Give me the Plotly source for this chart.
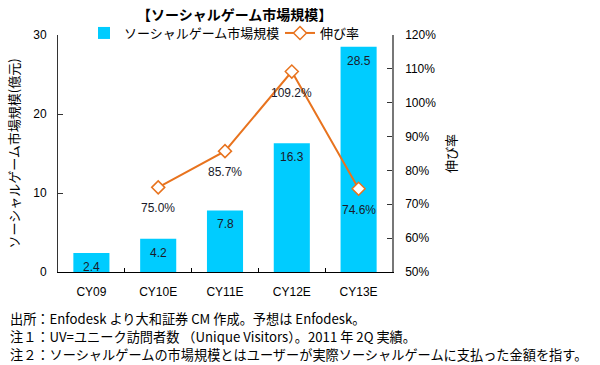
import plotly.graph_objects as go

categories = ["CY09", "CY10E", "CY11E", "CY12E", "CY13E"]
market_size = [2.4, 4.2, 7.8, 16.3, 28.5]
growth_cats = ["CY10E", "CY11E", "CY12E", "CY13E"]
growth_rate = [75.0, 85.7, 109.2, 74.6]
left_ticks = [0, 10, 20, 30]
right_ticks = [50, 60, 70, 80, 90, 100, 110, 120]
notes = [
    "出所：Enfodesk より大和証券 CM 作成。予想は Enfodesk。",
    "注１：UV=ユニーク訪問者数 （Unique Visitors）。2011 年 2Q 実績。",
    "注２：ソーシャルゲームの市場規模とはユーザーが実際ソーシャルゲームに支払った金額を指す。",
]

JP = "Noto Sans CJK JP"
LAT = "Liberation Sans, Arial, sans-serif"
BAR = "#00CCFF"
ORANGE = "#E8731E"

H, W = 365, 600
mt, mb, ml, mr = 35, 93, 58, 208
ph, pw = H - mt - mb, W - ml - mr


def px2paper(px, py):
    return (px - ml) / pw, (H - mb - py) / ph


fig = go.Figure()
fig.add_trace(go.Bar(
    x=categories, y=market_size, name="ソーシャルゲーム市場規模",
    marker=dict(color=BAR, line=dict(width=0)), width=0.54, yaxis="y", legend="legend",
))
fig.add_trace(go.Scatter(
    x=growth_cats, y=growth_rate, name="伸び率", yaxis="y2", legend="legend2",
    mode="lines+markers",
    line=dict(color=ORANGE, width=2),
    marker=dict(symbol="diamond", size=10, color="white", line=dict(color=ORANGE, width=1.5)),
))

annotations = []
for c, v in zip(categories, market_size):
    annotations.append(dict(x=c, y=v, xref="x", yref="y", text=f"{v:.1f}", showarrow=False,
                            yshift=-14, font=dict(family=LAT, size=12, color="#1a1a2a")))
for c, v in zip(growth_cats, growth_rate):
    annotations.append(dict(x=c, y=v, xref="x", yref="y2", text=f"{v:.1f}%", showarrow=False,
                            yshift=-21, font=dict(family=LAT, size=12, color="#1a1a2a")))
for i, t in enumerate(notes):
    nx, ny = px2paper(8, 318 + 18 * i)
    annotations.append(dict(x=nx, y=ny, xref="paper", yref="paper", text=t, showarrow=False,
                            xanchor="left", yanchor="middle", font=dict(family=JP, size=13.2, color="black")))

tx, ty = px2paper(234, 14)
annotations.append(dict(x=tx, y=ty, xref="paper", yref="paper",
                        text="<b>【ソーシャルゲーム市場規模】</b>", showarrow=False,
                        xanchor="center", yanchor="middle", font=dict(family=JP, size=14, color="black")))

lx, ly = px2paper(84, 33)
lx2, ly2 = px2paper(280, 33)
legfont = dict(family=JP, size=13, color="black")

fig.update_layout(
    width=W, height=H,
    margin=dict(l=ml, r=mr, t=mt, b=mb, pad=0, autoexpand=False),
    paper_bgcolor="white", plot_bgcolor="white",
    showlegend=True,
    legend=dict(orientation="h", x=lx, y=ly, xanchor="left", yanchor="middle",
                font=legfont, bgcolor="rgba(0,0,0,0)", itemwidth=30),
    legend2=dict(orientation="h", x=lx2, y=ly2, xanchor="left", yanchor="middle",
                 font=legfont, bgcolor="rgba(0,0,0,0)", itemwidth=30),
    xaxis=dict(type="category", categoryarray=categories, showline=True, linecolor="black", linewidth=1,
               ticks="inside", tickson="boundaries", ticklen=4, tickcolor="black", automargin=False,
               ticklabelstandoff=9,
               tickfont=dict(family=LAT, size=12, color="black"), showgrid=False, zeroline=False,
               range=[-0.5, 4.5]),
    yaxis=dict(range=[0, 30], tickvals=left_ticks, showline=True, linecolor="#333", linewidth=1,
               ticks="inside", ticklen=5, tickcolor="#333", showgrid=False, zeroline=False,
               automargin=False, ticklabelstandoff=8,
               tickfont=dict(family=LAT, size=12, color="black"),
               title=dict(text="ソーシャルゲーム市場規模(億元)", font=dict(family=JP, size=13, color="black"),
                          standoff=10)),
    yaxis2=dict(range=[50, 120], tickvals=right_ticks, ticktext=[f"{t}%" for t in right_ticks],
                overlaying="y", side="right", showline=True, linecolor="#777", linewidth=1.5,
                ticks="inside", ticklen=5, tickcolor="#333", showgrid=False, zeroline=False,
                automargin=False, ticklabelstandoff=9,
                tickfont=dict(family=LAT, size=12, color="black"),
                title=dict(text="伸び率", font=dict(family=JP, size=13, color="black"), standoff=12)),
    annotations=annotations,
)

fig.write_html("out.html", config={"displayModeBar": False},
               post_script="document.body.style.margin='0';document.body.style.padding='0';")
